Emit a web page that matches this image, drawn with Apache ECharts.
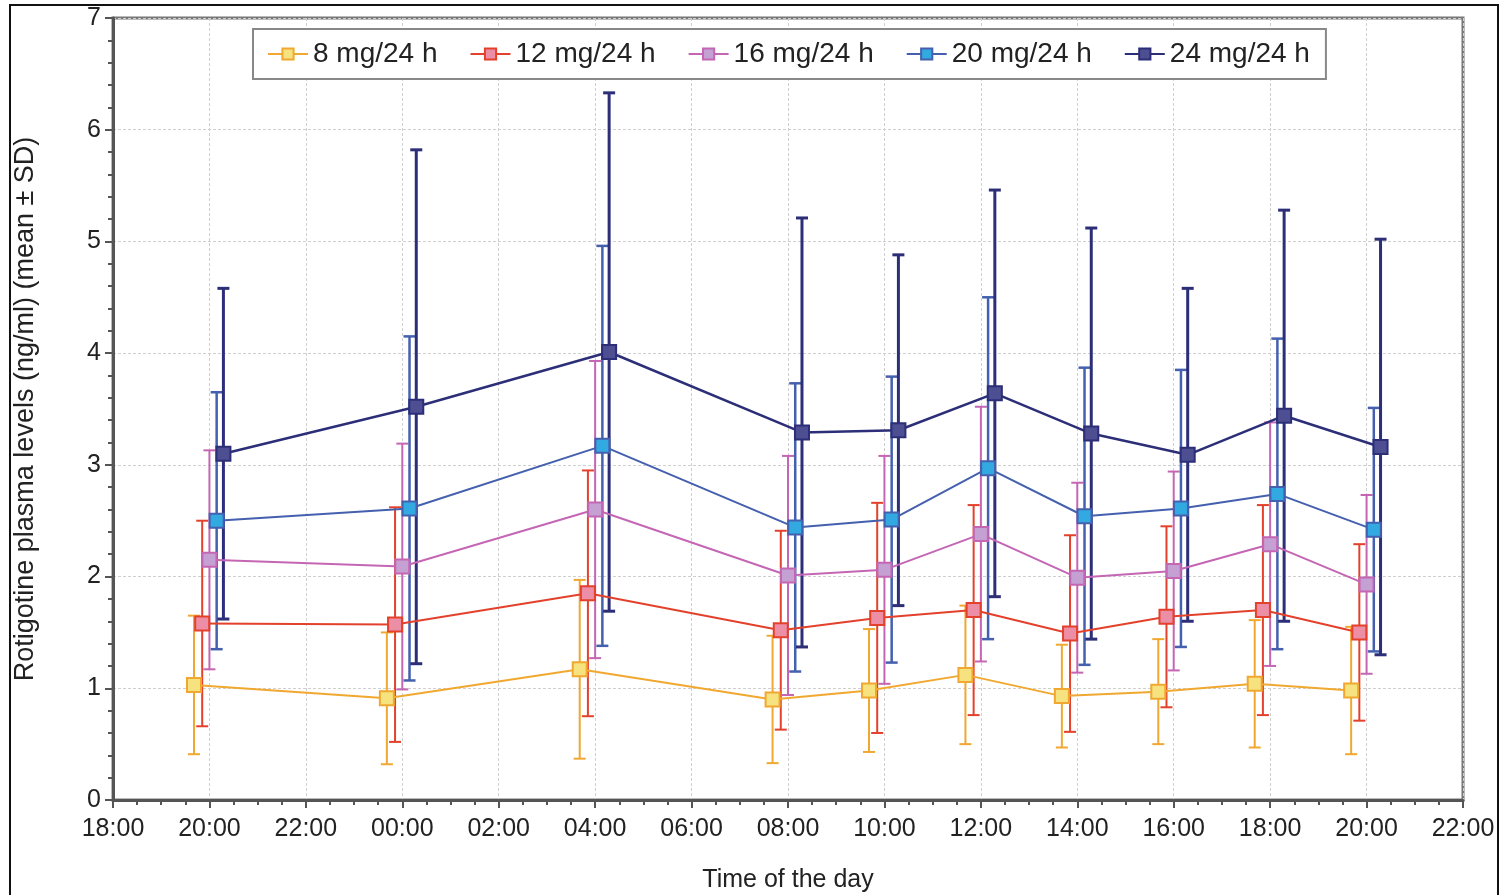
<!DOCTYPE html>
<html>
<head>
<meta charset="utf-8">
<title>Rotigotine plasma levels</title>
<script src="https://cdn.jsdelivr.net/npm/echarts@6/dist/echarts.min.js"></script>
<style>
  html, body { margin: 0; padding: 0; background: #fff; }
  #chart { width: 1503px; height: 895px; }
</style>
</head>
<body>
<div id="chart"></div>
<script>
// hours after 18:00 on day 1
const sampleHours = [2, 6, 10, 14, 16, 18, 20, 22, 24, 26]
const doseNames = ['8 mg/24 h', '12 mg/24 h', '16 mg/24 h', '20 mg/24 h', '24 mg/24 h']

const mean8 = [1.03, 0.91, 1.17, 0.90, 0.98, 1.12, 0.93, 0.97, 1.04, 0.98]
const sd8 = [0.62, 0.59, 0.80, 0.57, 0.55, 0.62, 0.46, 0.47, 0.57, 0.57]
const mean12 = [1.58, 1.57, 1.85, 1.52, 1.63, 1.70, 1.49, 1.64, 1.70, 1.50]
const sd12 = [0.92, 1.05, 1.10, 0.89, 1.03, 0.94, 0.88, 0.81, 0.94, 0.79]
const mean16 = [2.15, 2.09, 2.60, 2.01, 2.06, 2.38, 1.99, 2.05, 2.29, 1.93]
const sd16 = [0.98, 1.10, 1.33, 1.07, 1.02, 1.14, 0.85, 0.89, 1.09, 0.80]
const mean20 = [2.50, 2.61, 3.17, 2.44, 2.51, 2.97, 2.54, 2.61, 2.74, 2.42]
const sd20 = [1.15, 1.54, 1.79, 1.29, 1.28, 1.53, 1.33, 1.24, 1.39, 1.09]
const mean24 = [3.10, 3.52, 4.01, 3.29, 3.31, 3.64, 3.28, 3.09, 3.44, 3.16]
const sd24 = [1.48, 2.30, 2.32, 1.92, 1.57, 1.82, 1.84, 1.49, 1.84, 1.86]

const means = [mean8, mean12, mean16, mean20, mean24]
const sds = [sd8, sd12, sd16, sd20, sd24]

// small horizontal dodge so the groups do not overlap (hours)
const dodge = [-0.32, -0.15, 0, 0.15, 0.29]
const lineColors = ['#f0a830', '#e3412c', '#c466b4', '#4460ae', '#2c2f78']
const fillColors = ['#f6e27e', '#ec8ea6', '#c5a0d2', '#32a9e0', '#4d4f92']
const barWidths = [2, 2, 2, 2.5, 3]

const fontFam = "'Liberation Sans', Arial, sans-serif"

function hourLabel(v) {
  const h = (18 + v) % 24
  return (h < 10 ? '0' : '') + h + ':00'
}

const series = []
doseNames.forEach((name, i) => {
  series.push({
    name: name + ' SD',
    type: 'custom',
    z: 2,
    silent: true,
    data: sampleHours.map((t, j) => [t + dodge[i], means[i][j] - sds[i][j], means[i][j] + sds[i][j]]),
    renderItem(params, api) {
      const x = api.value(0)
      const lo = api.coord([x, api.value(1)])
      const hi = api.coord([x, api.value(2)])
      const half = 6
      const style = { stroke: lineColors[i], lineWidth: barWidths[i] }
      return {
        type: 'group',
        children: [
          { type: 'line', shape: { x1: lo[0], y1: lo[1], x2: hi[0], y2: hi[1] }, style },
          { type: 'line', shape: { x1: hi[0] - half, y1: hi[1], x2: hi[0] + half, y2: hi[1] }, style },
          { type: 'line', shape: { x1: lo[0] - half, y1: lo[1], x2: lo[0] + half, y2: lo[1] }, style }
        ]
      }
    }
  })
})
doseNames.forEach((name, i) => {
  series.push({
    name,
    type: 'line',
    z: 5,
    data: sampleHours.map((t, j) => [t + dodge[i], means[i][j]]),
    symbol: 'rect',
    symbolSize: 14,
    lineStyle: { color: lineColors[i], width: i === 4 ? 2.5 : 2 },
    itemStyle: { color: fillColors[i], borderColor: lineColors[i], borderWidth: 2 },
    emphasis: { disabled: true }
  })
})

const chart = echarts.init(document.getElementById('chart'))
chart.setOption({
  animation: false,
  textStyle: { fontFamily: fontFam },
  graphic: [{
    type: 'rect',
    shape: { x: 10, y: 5, width: 1488, height: 900 },
    style: { fill: 'none', stroke: '#111', lineWidth: 2 },
    silent: true
  }],
  grid: {
    left: 113, right: 40, top: 18, bottom: 95,
    outerBoundsMode: 'none',
    show: true, borderColor: '#777', borderWidth: 3
  },
  legend: {
    data: doseNames,
    left: 253, top: 29,
    padding: [11, 16, 11, 14],
    backgroundColor: '#fff',
    borderColor: '#888', borderWidth: 2,
    itemWidth: 40, itemHeight: 14, itemGap: 32,
    textStyle: { fontSize: 28, color: '#222', fontFamily: fontFam }
  },
  xAxis: {
    type: 'value',
    min: 0, max: 28, interval: 2,
    name: 'Time of the day',
    nameLocation: 'middle', nameGap: 68,
    nameTextStyle: { fontSize: 25, color: '#222' },
    axisLine: { lineStyle: { color: '#555', width: 3 } },
    axisTick: { show: true, length: 8, lineStyle: { color: '#555', width: 2 } },
    minorTick: { show: true, splitNumber: 4, length: 5, lineStyle: { color: '#555', width: 2 } },
    axisLabel: { fontSize: 25, color: '#222', margin: 17, formatter: hourLabel },
    splitLine: { show: true, lineStyle: { color: '#cfcfcf', width: 1, type: [3, 2] } }
  },
  yAxis: {
    type: 'value',
    min: 0, max: 7, interval: 1,
    name: 'Rotigotine plasma levels (ng/ml) (mean \u00b1 SD)',
    nameLocation: 'middle', nameGap: 74,
    nameTextStyle: { fontSize: 27, color: '#222' },
    axisLine: { show: true, lineStyle: { color: '#555', width: 3 } },
    axisTick: { show: true, length: 8, lineStyle: { color: '#555', width: 2 } },
    minorTick: { show: true, splitNumber: 5, length: 5, lineStyle: { color: '#555', width: 2 } },
    axisLabel: { fontSize: 25, color: '#222', margin: 12 },
    splitLine: { show: true, lineStyle: { color: '#cfcfcf', width: 1, type: [3, 2] } }
  },
  series
})
</script>
</body>
</html>
